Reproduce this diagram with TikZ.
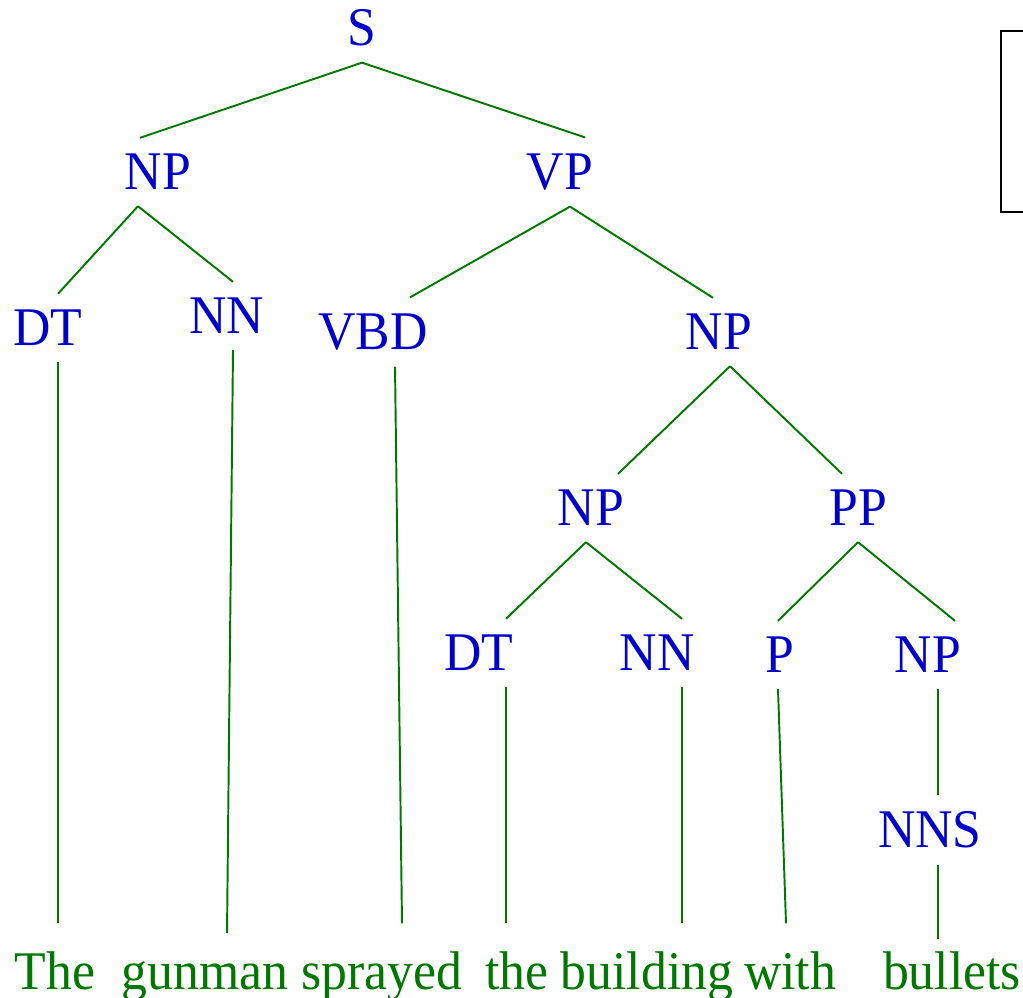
\documentclass[tikz,border=0pt]{standalone}
\usepackage{fontspec}
\setmainfont[FakeStretch=0.95]{Liberation Serif}
\usepackage{tikz}
\usetikzlibrary{calc}

\definecolor{catblue}{RGB}{0,0,205}
\definecolor{treegreen}{RGB}{0,120,0}

\tikzset{
  cat/.style={text=catblue, font=\fontsize{31}{36}\selectfont, inner xsep=0, inner ysep=0.32cm},
  word/.style={text=treegreen, font=\fontsize{31}{36}\selectfont, anchor=base, inner xsep=0, inner ysep=0.55cm},
  branch/.style={treegreen, line width=1.1pt}
}

\begin{document}
\begin{tikzpicture}[x=0.02cm, y=-0.02cm]

\useasboundingbox (0, 0) rectangle (1023, 997);
\clip (0, 0) rectangle (1023, 997);

\draw[line width=1.2pt] (1001, 31) rectangle (1060, 212);

\node[cat] (s) at (362, 28) {S};
\node[cat] (np1) at (158, 172) {NP};
\node[cat] (vp) at (560, 172) {VP};
\node[cat] (dt1) at (48, 328) {DT};
\node[cat] (nn1) at (227, 316) {NN};
\node[cat] (vbd) at (373, 332) {VBD};
\node[cat] (np2) at (719, 332) {NP};
\node[cat] (np3) at (591, 508) {NP};
\node[cat] (pp) at (858, 508) {PP};
\node[cat] (dt2) at (479, 653) {DT};
\node[cat] (nn2) at (657, 653) {NN};
\node[cat] (p) at (780, 655) {P};
\node[cat] (np4) at (928, 655) {NP};
\node[cat] (nns) at (930, 830) {NNS};

\node[word] (w1) at (55, 989) {The};
\node[word] (w2) at (205, 989) {gunman};
\node[word] (w3) at (382, 989) {sprayed};
\node[word] (w4) at (517, 989) {the};
\node[word] (w5) at (647, 989) {building};
\node[word] (w6) at (790, 989) {with};
\node[word] (w7) at (952, 989) {bullets};

\draw[branch] (s.south) -- ($(np1.north)+(-18, 0)$);
\draw[branch] (s.south) -- ($(vp.north)+(25, 0)$);

\draw[branch] ($(np1.south)+(-20, 0)$) -- ($(dt1.north)+(10, 0)$);
\draw[branch] ($(np1.south)+(-20, 0)$) -- ($(nn1.north)+(6, 0)$);

\draw[branch] ($(vp.south)+(10, 0)$) -- ($(vbd.north)+(37, 0)$);
\draw[branch] ($(vp.south)+(10, 0)$) -- ($(np2.north)+(-6, 0)$);

\draw[branch] ($(np2.south)+(11, 0)$) -- ($(np3.north)+(27, 0)$);
\draw[branch] ($(np2.south)+(11, 0)$) -- ($(pp.north)+(-16, 0)$);

\draw[branch] ($(np3.south)+(-5, 0)$) -- ($(dt2.north)+(27, 0)$);
\draw[branch] ($(np3.south)+(-5, 0)$) -- ($(nn2.north)+(25, 0)$);

\draw[branch] (pp.south) -- ($(p.north)+(-2, 0)$);
\draw[branch] (pp.south) -- ($(np4.north)+(27, 0)$);

\draw[branch] ($(np4.south)+(10, 0)$) -- ($(nns.north)+(8, 0)$);

\draw[branch] ($(dt1.south)+(10, 0)$) -- ($(w1.north)+(3, 0)$);
\draw[branch] ($(nn1.south)+(6, 0)$) -- ($(w2.north)+(22, 0)$);
\draw[branch] ($(vbd.south)+(22, 0)$) -- ($(w3.north)+(20, 0)$);
\draw[branch] ($(dt2.south)+(27, 0)$) -- ($(w4.north)+(-11, 0)$);
\draw[branch] ($(nn2.south)+(25, 0)$) -- ($(w5.north)+(35, 0)$);
\draw[branch] ($(p.south)+(-2, 0)$) -- ($(w6.north)+(-4, 0)$);
\draw[branch] ($(nns.south)+(8, 0)$) -- ($(w7.north)+(-14, 16)$);

\end{tikzpicture}
\end{document}
